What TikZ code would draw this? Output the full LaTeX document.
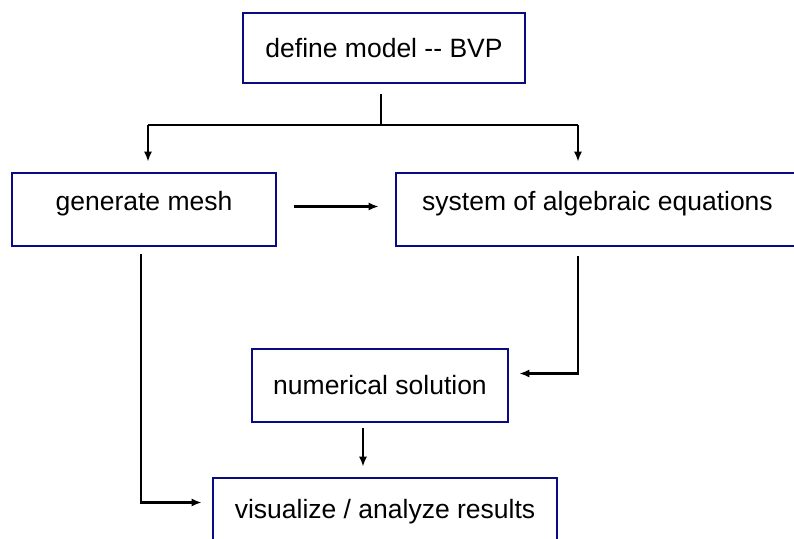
\documentclass[tikz,border=0pt]{standalone}
\usepackage{fontspec}
\setmainfont{Liberation Sans}
\usetikzlibrary{arrows.meta,calc}
\definecolor{boxblue}{RGB}{10,10,130}
\begin{document}
\begin{tikzpicture}[x=1pt,y=-1pt,
  stepbox/.style={draw=boxblue,line width=2.6pt,fill=white,inner sep=0pt,
    font=\fontsize{26.5}{30}\selectfont},
  conn/.style={draw=black,line width=2.1pt},
  arr/.style={conn,-{Latex[length=10pt,width=8pt]}}]
\clip (0,0) rectangle (794,538);
\fill[white] (0,0) rectangle (794,538);
\node[stepbox,minimum width=282pt,minimum height=70pt] (def) at (384,48) {define model -{}- BVP};
\node[stepbox,minimum width=264pt,minimum height=73pt] (mesh) at (144,209.5) {\raisebox{6pt}[\height][\depth]{generate mesh}};
\node[stepbox,minimum width=403pt,minimum height=73pt] (sys) at (597.5,209.5) {\raisebox{6pt}[\height][\depth]{system of algebraic equations}};
\node[stepbox,minimum width=256pt,minimum height=73pt] (num) at (380,385.5) {numerical solution};
\node[stepbox,minimum width=344pt,minimum height=73pt] (vis) at (385,514.5) {\raisebox{3pt}[\height][\depth]{visualize / analyze results}};
\coordinate (j) at (381,125);
\coordinate (jl) at (148,125);
\coordinate (jr) at (578,125);
\draw[conn,shorten <=10pt] (j |- def.south) -- (j);
\draw[conn] (jl) -- (jr);
\draw[arr,shorten >=10pt] (jl) -- (jl |- mesh.north);
\draw[arr,shorten >=10pt] (jr) -- (jr |- sys.north);
\draw[arr,shorten <=17pt,shorten >=16pt] ([yshift=3pt]mesh.east) -- ([yshift=3pt]sys.west);
\draw[arr,shorten <=9pt,shorten >=10pt] (jr |- sys.south) |- ([yshift=12pt]num.east);
\draw[arr,shorten <=5pt,shorten >=10pt] ([xshift=-17pt]num.south) -- ([xshift=-17pt]num.south |- vis.north);
\draw[arr,shorten <=7pt,shorten >=10pt] ([xshift=-3pt]mesh.south) |- ([yshift=12pt]vis.west);
\end{tikzpicture}
\end{document}
